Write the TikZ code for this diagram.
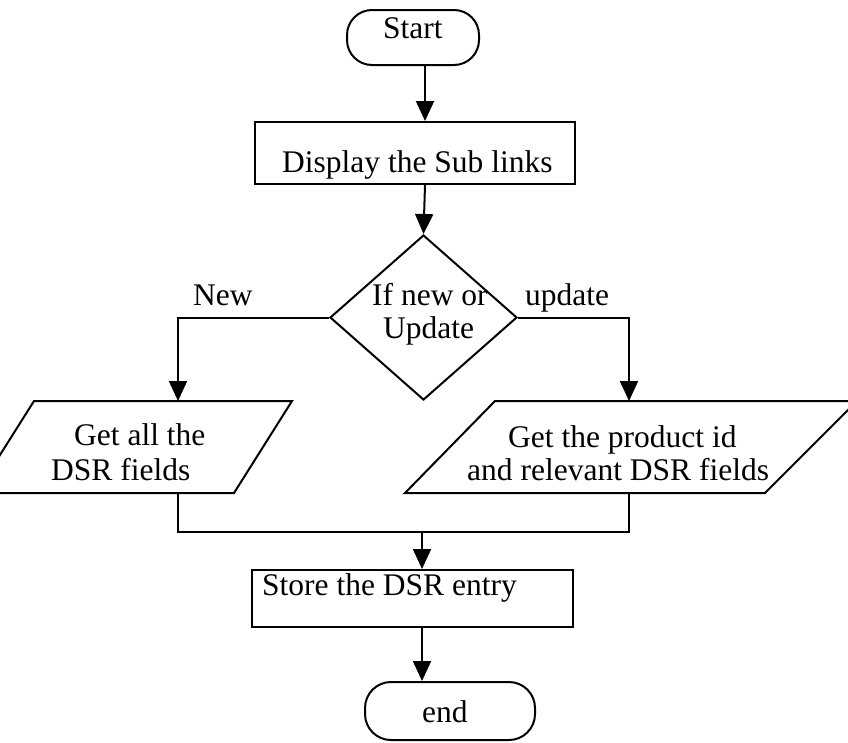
\documentclass[tikz,border=0pt]{standalone}
\usepackage{fontspec}
\setmainfont{Liberation Serif}
\usetikzlibrary{shapes.geometric,arrows.meta}
\tikzset{
  shp/.style={draw, line width=2pt, inner sep=0pt},
  conn/.style={line width=2pt},
  arr/.style={conn, -{Triangle[length=20pt,width=18pt]}},
  txt/.style={font=\fontsize{31.5}{36}\selectfont, inner sep=0pt, anchor=base west},
}
\begin{document}
\begin{tikzpicture}[x=1pt,y=-1pt]
\useasboundingbox (0,0) rectangle (848,742);
\begin{scope}
\clip (0,0) rectangle (848,742);
% shapes
\node[shp, rounded corners=25pt, minimum width=132pt, minimum height=55pt] (start) at (413,37.5) {};
\node[txt] (tstart) at (383,38) {Start};
\node[shp, minimum width=320pt, minimum height=62pt] (disp) at (415,153) {};
\node[txt] (tdisp) at (282,172) {Display the Sub links};
\node[shp, diamond, minimum width=187pt, minimum height=165pt] (dia) at (423.5,317.5) {};
\node[txt] (tdia1) at (372,305) {If new or};
\node[txt] (tdia2) at (383,338) {Update};
\node[txt] (tnew) at (193,305) {New};
\node[txt] (tupd) at (525,305) {update};
% left parallelogram
\draw[line width=2pt] (34,401) -- (292,401) -- (234,493) -- (-24,493) -- cycle;
\node[txt] (tl1) at (74,445) {Get all the};
\node[txt] (tl2) at (51,480) {DSR fields};
% right parallelogram
\draw[line width=2pt] (495,401) -- (857,401) -- (765,493) -- (405,493) -- cycle;
\node[txt] (tr1) at (508,447) {Get the product id};
\node[txt] (tr2) at (467,480) {and relevant DSR fields};
\coordinate (ltop) at (178,401);
\coordinate (lbot) at (178,493);
\coordinate (rtop) at (629,401);
\coordinate (rbot) at (629,493);
\coordinate (lj) at (178,532);
\coordinate (rj) at (629,532);
\coordinate (mj) at (422,532);
\coordinate (ax1) at (425,0);
\coordinate (ax2) at (422,0);
\node[shp, minimum width=321pt, minimum height=57pt] (store) at (412.5,598.5) {};
\node[txt] (tstore) at (262,595) {Store the DSR entry};
\node[shp, rounded corners=26pt, minimum width=170pt, minimum height=58pt] (end) at (450,711) {};
\node[txt] (tend) at (422,722) {end};
% connectors
\draw[arr] (ax1 |- start.south) -- (ax1 |- disp.north);
\draw[arr] (ax1 |- disp.south) -- (dia.north);
\draw[arr] (dia.west) -| (ltop);
\draw[arr] (dia.east) -| (rtop);
\draw[conn] (lbot) -- (lj) -- (rj) -- (rbot);
\draw[arr] (mj) -- (mj |- store.north);
\draw[arr] (ax2 |- store.south) -- (ax2 |- end.north);
\end{scope}
\end{tikzpicture}
\end{document}
